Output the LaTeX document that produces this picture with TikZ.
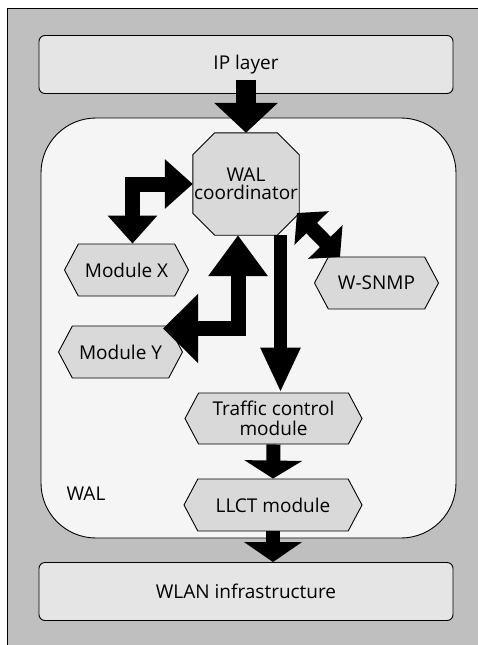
\documentclass[tikz,border=0pt]{standalone}
\usepackage{fontspec}
\setmainfont{Open Sans}
\usetikzlibrary{arrows.meta,shapes.symbols,calc}

\tikzset{
  layerBox/.style={draw, line width=0.9pt, fill=black!10, rounded corners=6pt, minimum width=414pt, minimum height=58pt},
  walBox/.style={draw, line width=0.9pt, fill=black!4, rounded corners=55pt, minimum width=415pt, minimum height=420pt},
  moduleBox/.style={draw, line width=0.9pt, fill=black!15, signal, signal to=west and east, signal pointer angle=124, minimum width=124pt, minimum height=52pt, inner sep=1pt, align=center},
  coordFrame/.style={minimum width=106pt, minimum height=102pt, inner sep=0pt},
  coordLine/.style={draw, line width=0.9pt, fill=black!15},
  fatArrow/.style={draw=black, line width=#1, line join=miter},
  fatArrow/.default=15pt
}

\begin{document}
\begin{tikzpicture}[x=1pt, y=-1pt, font=\fontsize{19}{18}\selectfont]
		\useasboundingbox (0,0) rectangle (478,645);
		\fill[black!25] (7,8) rectangle (478,645);
		\draw[line width=0.9pt] (7,645) -- (7,8) -- (478,8);

		\node[layerBox] (ip) at (246,64.5) {IP layer};
		\node[walBox] (wal) at (248.5,328) {};
		\node[layerBox] (wlan) at (246,591.5) {WLAN infrastructure};
		\node (wallabel) at (86,494) {WAL};

		\node[coordFrame] (coord) at (246,184) {};
		\filldraw[coordLine] ([xshift=22pt]coord.north west) -- ([xshift=-22pt]coord.north east) -- ([yshift=-22pt]coord.north east)
			-- ([yshift=22pt]coord.south east) -- ([xshift=-22pt]coord.south east) -- ([xshift=22pt]coord.south west)
			-- ([yshift=22pt]coord.south west) -- ([yshift=-22pt]coord.north west) -- cycle;
		\node[align=center] (coordtext) at (coord.center) {WAL\\coordinator};
		\node[moduleBox] (modx) at (126.5,270) {Module X};
		\node[moduleBox] (mody) at (120.5,352) {Module Y};
		\node[moduleBox] (snmp) at (376.5,283) {W-SNMP};
		\node[moduleBox, minimum width=177pt, minimum height=51pt, font=\fontsize{19}{20}\selectfont] (traffic) at (273.5,418.5) {Traffic control\\module};
		\node[moduleBox, minimum width=178pt] (llct) at (273,505) {LLCT module};

		\draw[fatArrow=20pt, -{Triangle[width=62pt,length=30pt]}] ([yshift=14pt]ip.south) -- (coord.north);
		\draw[fatArrow, {Triangle[width=48pt,length=28pt]}-{Triangle[width=48pt,length=28pt]}] (coord.west) -| ([xshift=6pt]modx.north);
		\draw[fatArrow, {Triangle[width=57pt,length=41pt]}-{Triangle[width=67pt,length=35pt]}] ([xshift=-8pt]coord.south) |- ([shift={(42.5,-23.5)}]mody.center);
		\draw[fatArrow=13pt, -{Triangle[width=37pt,length=45pt]}] ($(coord.south -| traffic.north)+(7,0)$) -- ([xshift=7pt]traffic.north);
		\draw[fatArrow, {Triangle[width=47pt,length=21pt]}-{Triangle[width=47pt,length=21pt]}] ([shift={(51,29)}]coord.center) -- ([shift={(-36.5,-26)}]snmp.center);
		\draw[fatArrow=14pt, -{Triangle[width=57pt,length=18pt]}] (traffic.-90) -- (llct.90);
		\draw[fatArrow=14pt, -{Triangle[width=57pt,length=20pt]}] (llct.-90) -- (llct.-90 |- wlan.north);
	\end{tikzpicture}
\end{document}
